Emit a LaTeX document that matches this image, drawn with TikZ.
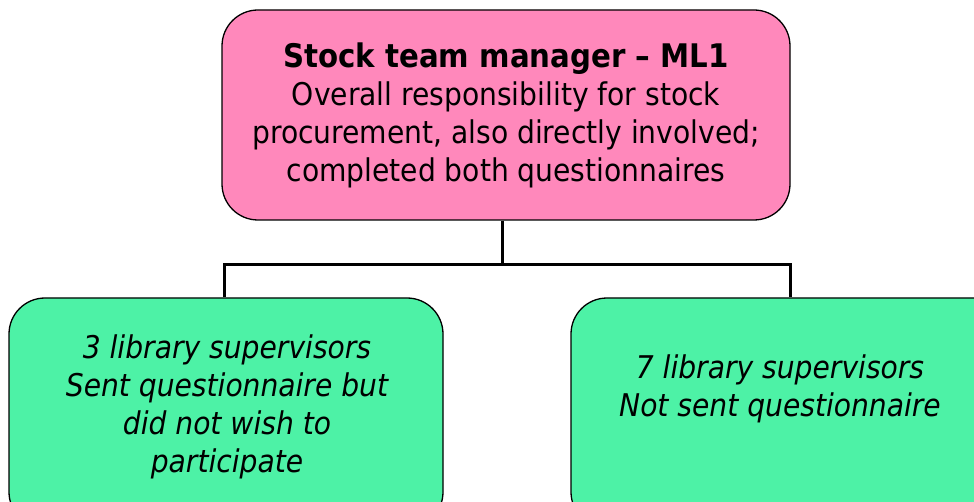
\documentclass[tikz,border=0pt]{standalone}
\usepackage{fontspec}
\setmainfont{DejaVu Sans Condensed}
\usetikzlibrary{calc}
\definecolor{pinkc}{HTML}{FF88BB}
\definecolor{greenc}{HTML}{4DF2A6}
\begin{document}
\begin{tikzpicture}[x=1pt,y=-1pt,
 box/.style={draw=black, line width=1.3pt, rounded corners=36pt, inner sep=0pt},
 topbox/.style={box, fill=pinkc, minimum width=568pt, minimum height=210pt},
 lowbox/.style={box, fill=greenc, minimum width=434pt, minimum height=230pt},
 txt/.style={align=center, font=\fontsize{31.3}{38}\selectfont},
 itxt/.style={align=center, font=\fontsize{31.3}{38}\selectfont\itshape},
 conn/.style={line width=3pt}]
\useasboundingbox (0,0) rectangle (974,502);
\clip (0,0) rectangle (974,502);
\fill[white] (0,0) rectangle (974,502);
\coordinate (bus) at (502,265);
\node[topbox, txt] (top) at (506,115) {{\fontsize{32.5}{38}\selectfont\bfseries Stock team manager – ML1}\\Overall responsibility for stock\\procurement, also directly involved;\\completed both questionnaires};
\node[lowbox] (left) at (226,413) {};
\node[lowbox, minimum width=438pt] (right) at (790,413) {};
\node[itxt] (lt) at (227,407) {3 library supervisors\\Sent questionnaire but\\did not wish to\\participate};
\node[itxt] (rt) at (780,389) {7 library supervisors\\Not sent questionnaire};
\draw[conn] (top.south -| bus) -- (bus);
\draw[conn] ([xshift=-2pt]left.north) |- (bus) -| (right.north);
\end{tikzpicture}
\end{document}
